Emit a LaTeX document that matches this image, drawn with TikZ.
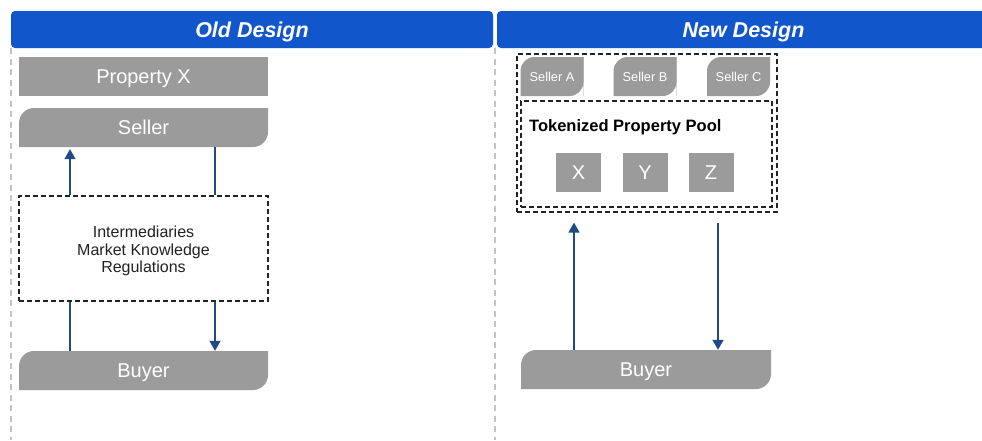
\documentclass[tikz,border=0pt]{standalone}
\usepackage{fontspec}
\setmainfont{Liberation Sans}
\usetikzlibrary{arrows.meta}
\definecolor{hdrblue}{HTML}{1256CB}
\definecolor{boxgray}{HTML}{9B9B9B}
\definecolor{guide}{HTML}{C4C4C4}
\definecolor{flow}{HTML}{1F4A86}
\definecolor{ink}{HTML}{222222}
\tikzset{
  header/.style={fill=hdrblue, rounded corners=4pt, minimum height=37pt,
    text=white, font=\bfseries\itshape\fontsize{21.5}{24}\selectfont, inner sep=0pt,
    text height=15.5pt, text depth=0pt},
  flat/.style={fill=boxgray, minimum height=39pt, inner sep=0pt,
    text=white, font=\fontsize{20}{23}\selectfont, text height=14.3pt, text depth=0pt},
  leaf/.style={flat, path picture={
    \fill[white] (path picture bounding box.south west) rectangle (path picture bounding box.north east);
    \fill[boxgray] (path picture bounding box.south west)
      [rounded corners=#1] -- (path picture bounding box.north west)
      [sharp corners] -- (path picture bounding box.north east)
      [rounded corners=#1] -- (path picture bounding box.south east)
      [sharp corners] -- cycle;}},
  leaf/.default=15pt,
  small/.style={font=\fontsize{12.8}{15}\selectfont, text height=9.2pt},
  dashbox/.style={draw=ink, line width=1.2pt, dash pattern=on 5pt off 3pt, inner sep=0pt},
  guideline/.style={guide, line width=2pt, dash pattern=on 6pt off 4.5pt},
  link/.style={flow, line width=1.4pt},
  arr/.style={link, -{Triangle[width=11pt,length=10pt]}},
}
\begin{document}
\begin{tikzpicture}[x=1pt,y=-1pt]
\clip (0,0) rectangle (982,440);
\fill[white] (0,0) rectangle (982,440);

% column guides
\draw[guideline] (11,48) -- (11,440);
\draw[guideline] (495,48) -- (495,440);

% headers
\node[header, minimum width=482pt] (oldhdr) at (252,29.5) {Old Design};
\node[header, minimum width=493pt] (newhdr) at (743.5,29.5) {New Design};

% old design
\node[flat, minimum width=249pt] (propx) at (143.5,76.5) {Property X};
\node[leaf, minimum width=249pt] (seller) at (143.5,127.5) {Seller};
\node[dashbox, minimum width=249pt, minimum height=105pt] (inter) at (143.5,248.5) {};
\node[align=center, text=ink, inner sep=0pt, font=\fontsize{16}{17.7}\selectfont]
  (interlbl) at (143.5,251) {Intermediaries\\Market Knowledge\\Regulations};
\node[leaf, minimum width=249pt] (buyer) at (143.5,370.5) {Buyer};

\coordinate (oL) at (70,0);
\coordinate (oR) at (215,0);
\draw[arr, shorten >=2pt] (inter.north -| oL) -- (seller.south -| oL);
\draw[link] (seller.south -| oR) -- (inter.north -| oR);
\draw[link] (inter.south -| oL) -- (buyer.north -| oL);
\draw[arr] (inter.south -| oR) -- (buyer.north -| oR);

% new design
\node[dashbox, minimum width=260pt, minimum height=158pt] (outer) at (647,133) {};
\node[dashbox, minimum width=251pt, minimum height=106pt] (pool) at (646.5,154) {};
\node[leaf=14pt, minimum width=63pt, small] (sa) at (552,76.5) {Seller A};
\node[leaf=14pt, minimum width=63pt, small] (sb) at (645,76.5) {Seller B};
\node[leaf=14pt, minimum width=63pt, small] (sc) at (738.5,76.5) {Seller C};
\node[anchor=base west, inner sep=0pt, text=black, font=\bfseries\fontsize{16.5}{19}\selectfont]
  (pooltitle) at (529,131.5) {Tokenized Property Pool};
\node[flat, minimum width=45pt] (tx) at (578.5,172.5) {X};
\node[flat, minimum width=45pt] (ty) at (645,172.5) {Y};
\node[flat, minimum width=45pt] (tz) at (711,172.5) {Z};
\node[leaf, minimum width=250pt] (buyer2) at (646,369.5) {Buyer};

\coordinate (nL) at (574,0);
\coordinate (nR) at (718,0);
\draw[arr, shorten >=10pt] (buyer2.north -| nL) -- (outer.south -| nL);
\draw[arr, shorten <=10pt] (outer.south -| nR) -- (buyer2.north -| nR);
\end{tikzpicture}
\end{document}
